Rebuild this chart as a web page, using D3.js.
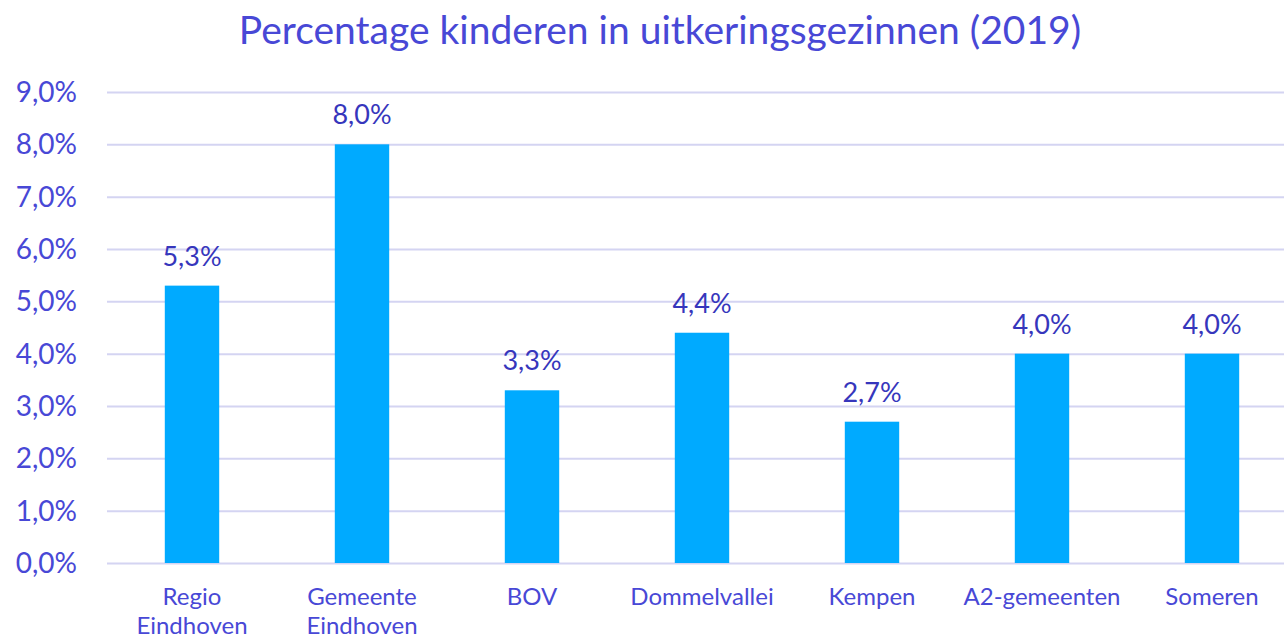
<!DOCTYPE html>
<html><head><meta charset="utf-8">
<script src="https://cdn.jsdelivr.net/npm/d3@7"></script>
<style>body{margin:0;background:#fff;} svg{display:block;font-family:Lato,"Open Sans",sans-serif;}</style>
</head><body>
<svg id="c" width="1284" height="639"></svg>
<script>
const categories = [["Regio","Eindhoven"],["Gemeente","Eindhoven"],["BOV"],["Dommelvallei"],["Kempen"],["A2-gemeenten"],["Someren"]];
const values = [5.3, 8.0, 3.3, 4.4, 2.7, 4.0, 4.0];
const yTicks = [0,1,2,3,4,5,6,7,8,9];
const title = "Percentage kinderen in uitkeringsgezinnen (2019)";

const svg = d3.select("#c");
const fmt = v => v.toFixed(1).replace(".", ",") + "%";
const x = d3.scaleBand().domain(d3.range(categories.length)).range([107, 1297]).paddingInner(0.68).paddingOuter(0.34);
const y = d3.scaleLinear().domain([0, 9]).range([563, 92]);

svg.append("text").attr("x", 660).attr("y", 44).attr("text-anchor", "middle")
  .attr("font-size", 39).attr("fill", "#4848d6").text(title);

const yAxis = svg.append("g").attr("transform", "translate(107,0)")
  .call(d3.axisLeft(y).tickValues(yTicks).tickSize(-1190).tickFormat(d => fmt(d)).tickPadding(30));
yAxis.select(".domain").remove();
yAxis.selectAll(".tick line").attr("stroke", "#d4d4f2").attr("stroke-width", 2);
yAxis.selectAll(".tick text").attr("font-size", 28).attr("fill", "#4848d6").attr("font-family", "Lato").attr("dy", "0.34em");

svg.selectAll("rect.bar").data(values).join("rect").attr("class", "bar")
  .attr("x", (d, i) => x(i)).attr("width", x.bandwidth())
  .attr("y", d => y(d)).attr("height", d => y(0) - y(d)).attr("fill", "#00aaff");

svg.selectAll("text.lbl").data(values).join("text").attr("class", "lbl")
  .attr("x", (d, i) => x(i) + x.bandwidth() / 2).attr("y", d => y(d) - 20)
  .attr("text-anchor", "middle").attr("font-size", 27).attr("fill", "#3636bc").text(d => fmt(d));

const cat = svg.selectAll("text.cat").data(categories).join("text").attr("class", "cat")
  .attr("text-anchor", "middle").attr("font-size", 24).attr("fill", "#4848d6");
cat.each(function(d, i) {
  const t = d3.select(this);
  d.forEach((line, j) => t.append("tspan").attr("x", x(i) + x.bandwidth() / 2).attr("y", 605 + j * 29).text(line));
});
</script>
</body></html>
